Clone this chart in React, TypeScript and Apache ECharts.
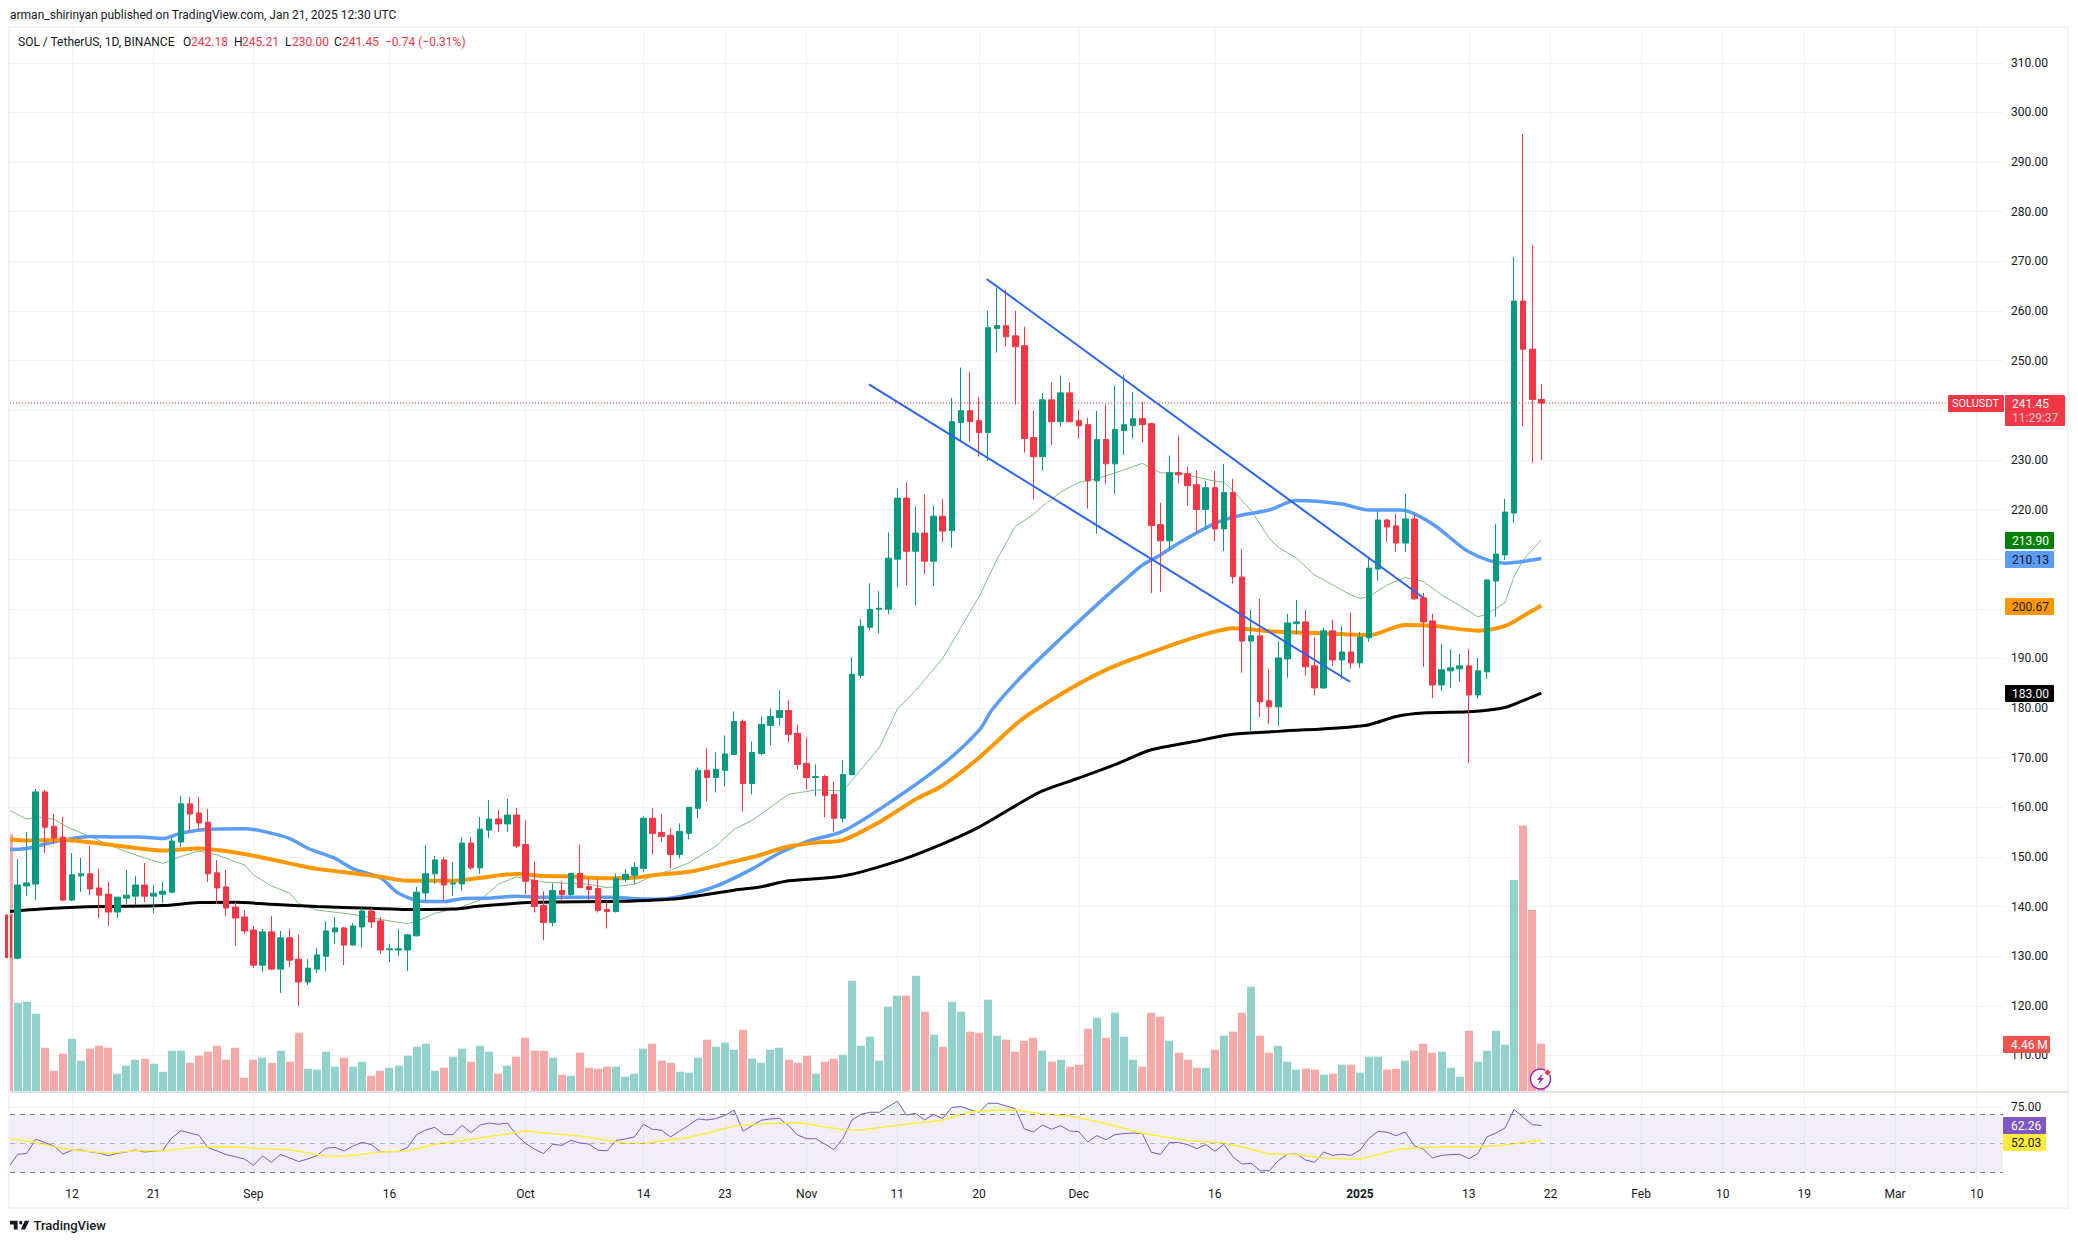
import React, { useEffect, useRef } from "react";
import * as echarts from "echarts";

const FIRST_DAY = Date.UTC(2024, 7, 5);
const dayIndex = (y: number, m: number, d: number) => Math.round((Date.UTC(y, m - 1, d) - FIRST_DAY) / 86400000);

const opens = [
  138.3,129.6,144.15,144.55,163.1,156.2,154.0,141.3,146.2,146.6,
  143.75,142.5,138.9,141.7,142.1,144.35,142.1,142.5,142.9,153,
  160.7,158.85,157,146.8,143.95,139.9,137.9,135.3,128.2,134.9,
  127.4,133.7,129.4,124.8,127.4,130,134.9,135.7,132.25,135.9,
  139.1,137.1,131.3,131.25,131.25,134.1,142.75,146.6,149.4,144.55,
  144.55,152.8,147.8,155.4,157.65,156.65,158.45,152.5,145.3,140.2,
  136.8,143.25,142.45,146.7,144.05,143.65,139.4,139,145.5,146.3,
  147.7,157.8,154.95,154.35,150.5,154.75,159.8,167.45,166,167.45,
  170.65,177.3,164.8,170.85,176.5,178.1,179.5,174.9,168.85,166,
  166.2,162.6,157.8,166.6,186.6,196.3,199.9,199.9,210,222.3,
  211.6,215.25,209.6,218.65,215.75,237.5,239.9,237.9,235.5,256.45,
  257.05,255,253,234.5,230.65,242.1,237.7,243.5,237.9,237.1,
  225.8,234.1,229.2,235.9,236.9,238.3,237.3,216.95,213.7,227.4,
  227.2,225,220,224.4,216.1,223.4,206.4,193.5,194.55,181.45,
  180.25,189.9,197,197.35,188.5,184.05,195.55,189.7,191.3,189.1,
  194.15,208,217.9,216.7,213.25,218.1,202.2,197.55,184.65,187.5,
  187.9,188.5,182.65,187.3,205.6,210.85,219.3,262,252.3,242.18,
];
const highs = [
  141,149.6,155,163.7,163.5,158.7,158.05,150.8,149.8,152.2,
  147.6,145,141.9,147.4,146.2,148.8,144.35,145,153.8,162.3,
  162.1,162.1,159.7,149.4,147.4,140.9,139.3,136.1,135.5,138.1,
  135.1,135.5,134.3,129.4,131.7,137.1,137.9,135.9,136.7,139.7,
  139.7,137.9,132.5,135.5,134.5,143.95,152.4,150.2,150,149,
  154,154,158.05,161.5,159.5,161.7,159.9,157.4,149.1,143.05,
  144.65,145.1,146.8,152.5,145.7,145.5,141,146.7,147.5,148.9,
  158.2,159.8,158.6,155.75,156.75,160,168.05,171.9,171.05,174.5,
  179.3,177.7,173.3,178.3,179.9,183.55,181.55,176.7,174.1,168.65,
  166.6,165.2,169.45,190.25,197.9,205.15,203.55,215.4,224.2,225.4,
  220.6,223,220.8,222.1,242.5,248.6,247.8,242.7,260.05,264.7,
  264.3,260.05,256.85,239.9,243.5,245.55,247,245.55,240.1,238.5,
  239.9,241.1,245,247.1,243.7,241.7,237.5,221.4,230.85,234.9,
  228.6,227.8,225.8,227.8,229.2,226.2,212.05,199.8,202,187.9,
  193.5,199,201.8,199.8,194.3,196.15,197.75,196.55,199.2,195.35,
  210.25,219.7,218.1,219.1,223.15,219.1,203.2,199,192.9,191.9,
  190.9,191.9,190.1,206,217.1,222.15,270.9,295.7,273.3,245.21,
];
const lows = [
  128,129.4,142.1,141.3,150.8,152.6,141.1,141.1,142.9,142.3,
  137.7,136.1,137.7,140.5,140.3,140.9,138.7,140.7,142.7,152,
  155.2,155.4,145,140.5,138.1,132.1,134.5,127.6,126.8,127.2,
  122.6,127.8,120,124.2,126.6,127,132.5,128.2,132.1,131.7,
  135.7,130.45,128.8,130,127,134,141.1,144.55,141.1,142.1,
  143.15,147.4,146.6,153.8,155,155,151.8,142.45,138.8,133.2,
  136,141.25,142.05,143.65,141.25,138.8,135.6,138.8,144.9,144.5,
  146.9,150.5,153.1,147.7,149.7,153.55,157.8,161.2,163,164.2,
  170.55,159.2,162.6,170.45,172.5,176.5,173.1,167.65,163.6,162.2,
  158,155.15,157,166.4,186,195.7,195.1,198.9,204.35,204.75,
  200.7,207,204.55,213.4,212.3,233.7,233.7,230.65,229.85,251.6,
  252.8,241.1,231.45,222,227.8,233,236.7,237.7,234.3,220.2,
  215.1,225.1,223.2,231,234.3,233.5,203.2,203.4,211.7,225.3,
  220.8,215.3,215.9,213.6,211.6,205.1,187.1,175.2,178.2,176.8,
  176.4,186.1,194.9,186.5,182.65,183.85,188.5,185.9,187.9,188.1,
  193.35,205.6,213.5,211.45,211.45,201.8,188.3,182,183.45,184.05,
  185.3,168.9,181.85,185.9,198.4,209.85,217.3,236.75,229.4,230,
];
const closes = [
  129.7,144.35,144.75,163.1,156,153.8,141.3,146.4,146.6,143.55,
  142.3,138.9,141.9,142.3,144.35,142.1,142.7,143.1,153.2,160.7,
  158.65,156.85,146.6,143.75,139.7,137.7,135.1,128.2,134.9,127.4,
  133.7,129.2,124.8,127.6,130.25,135.1,135.7,132.25,136.1,139.1,
  136.9,131.25,131.5,131.5,134.3,142.9,146.6,149.4,144.35,144.75,
  152.8,147.8,155.6,157.65,156.65,158.45,152.2,145.1,140,136.8,
  143.25,142.45,146.7,143.85,143.45,139.2,139,145.7,146.5,147.9,
  157.8,154.75,154.15,150.5,155.15,160,167.45,166,167.65,170.75,
  177.3,164.8,171.05,176.7,178.3,179.5,174.7,168.65,166,166.2,
  162.4,157.8,166.6,186.8,196.5,199.9,200.1,210.2,222.3,211.6,
  215.25,209.6,218.65,215.65,237.7,239.9,237.7,235.5,256.65,257.05,
  254.8,252.8,234.3,230.65,242.1,237.7,243.5,237.7,236.9,225.8,
  234.1,229.2,236.1,237.1,238.3,237.1,216.75,213.7,227.4,227,
  224.8,220,224.4,216.1,223.4,206.5,193.5,194.55,181.25,180.25,
  190.1,197.15,197.35,188.3,184.05,195.55,189.7,191.3,189.1,194.3,
  208.2,217.9,216.5,213.25,218.1,202,197.35,184.65,187.7,188.1,
  188.5,182.65,187.5,205.8,211.05,219.5,262,252.3,242.18,241.45,
];
// volume in millions
const volumes = [
  23.8,8.24,8.33,7.23,4.09,1.97,3.54,4.92,2.89,4.0,
  4.27,4.09,1.69,2.43,2.98,3.07,2.61,1.87,3.81,3.81,
  2.7,3.35,3.72,4.27,2.98,4.09,1.32,2.98,3.17,2.7,
  3.81,2.8,5.47,2.15,2.06,3.72,2.34,3.17,2.34,2.8,
  1.5,1.97,2.24,2.43,3.35,4.18,4.46,1.97,2.24,3.26,
  4.0,2.8,4.27,3.72,1.69,2.43,3.26,5.01,3.81,3.81,
  3.17,1.6,1.5,3.63,2.24,2.15,2.34,2.34,1.41,1.69,
  4.0,4.46,2.89,2.7,1.87,1.78,3.17,4.83,4.18,4.55,
  3.9,5.75,3.07,2.7,3.9,4.09,2.98,2.7,3.35,1.69,
  2.8,3.07,3.44,10.27,4.27,5.1,2.89,7.87,8.89,8.89,
  10.73,7.41,5.29,4.18,8.33,7.41,5.57,5.47,8.52,5.2,
  4.83,3.72,4.73,5.01,3.81,2.8,2.98,2.34,2.52,5.84,
  6.86,5.01,7.32,5.1,2.98,2.34,7.32,6.95,4.73,3.63,
  2.98,2.24,2.24,3.9,5.2,5.57,7.32,9.72,5.2,3.63,
  4.27,2.8,2.06,2.15,2.06,1.6,1.69,2.52,2.52,1.78,
  3.26,3.26,2.06,2.15,2.89,3.81,4.46,3.63,3.72,2.24,
  1.41,5.66,2.8,3.81,5.66,4.37,19.57,24.6,16.8,4.46,
];
const rsiValues = [
  33.5,42.4,42.9,52.8,50.5,48.2,42.6,45.2,45.4,44,
  43.3,41.5,43.1,44,45.4,44,44.5,45.2,53.7,58.7,
  57.1,55.5,47,44.7,42.2,40.8,39.2,34.8,41.3,36.9,
  42.4,39.9,37.4,39.2,41.5,46.6,47.2,44.7,48.2,50.7,
  49.1,44.3,44.3,44.3,47.2,56,59.2,61,56,56,
  62.4,57.4,62.6,64,63.1,64,55.7,50,45.9,42.9,
  49.3,48.6,52,50.2,49.5,45.2,44.9,52,53,54.4,
  63.1,59.7,59,54.4,58.5,62.4,66.8,66.1,67,69.3,
  72.8,58.3,62.2,65.9,66.8,67.2,62.2,55.7,53.2,53.2,
  49.5,45.6,53.4,66.1,70,71.4,71.4,75.3,79,69.5,
  70.7,66.1,69.8,67.2,74.8,75.3,73.2,71.4,77.6,77.6,
  75.7,73.9,59.9,57.8,62.6,59.7,62.2,58.5,58,50.9,
  55.3,52.5,56,56.7,57.1,56.7,43.8,42.4,50.5,50.5,
  49.1,46.3,49.1,44.5,49.3,40.6,35.7,36.2,31.1,31.1,
  38,42.4,42.6,38.5,36.9,44,41.7,42.4,41.7,45.2,
  53.4,58.3,57.6,55.3,57.8,48.2,45.9,39.9,41.7,42.2,
  42.4,39.4,42.9,54.4,57.1,60.6,73.4,67.9,62.9,62.26,
];

// [day index, value] readings of the moving averages
const maGreen = [[0,159.5],[2,157.65],[3.5,158],[5,157.6],[6.5,156],[9,154.1],[12,151.75],[14,150.4],[17,148.7],[19,150.1],[21,151.2],[23,150.4],[26,148.4],[27,146.4],[29,144.15],[31,142.7],[32,140.65],[34,139.3],[37,138.65],[39,138.1],[41,137.4],[44,136.55],[45.5,137.4],[47,138.65],[49.5,139.65],[52,141.3],[54,144.5],[56,146],[59,144.95],[61.5,144.7],[64,144.5],[66,143.8],[69,144.5],[71,146.15],[73,147.35],[75,148.8],[78,152.2],[80,155.55],[82,157.4],[86,162.6],[89,163.5],[92,163.3],[96,172],[98,179.8],[100,183.5],[103,190],[107,202.4],[109,210],[111,216.6],[113,219],[114,220.7],[116,223.5],[118,225.5],[120,226.2],[123,228],[125,229.3],[127,227.4],[129,227.4],[133,225.7],[134,225.5],[135,223.8],[137,219.8],[139,214.2],[140,212.4],[142,210.2],[144,206.8],[146,204.8],[148,202.8],[149,202.1],[150,202.45],[152,204.8],[154,206.3],[156,205.5],[158,202.8],[160,200.65],[162,198.4],[163,198.9],[165,201.3],[166,206.5],[167,209.85],[169,213.9]];
const maBlue = [[0,151.5],[2,151.7],[4,152.6],[6,153.4],[9,154.1],[12,154],[14.5,154],[17,153.7],[19,154.8],[22,155.6],[26,155.7],[28,155.2],[31,153.7],[33,151.75],[36,149.7],[38,147.6],[41,145.8],[43,142.7],[46,141],[48,141],[50,141.6],[53,141.7],[56,142.1],[59,141.9],[67,141.9],[69,141.6],[71.5,141.5],[74,142],[78,144.1],[82,147.6],[85,150.8],[88,153.1],[92,155.2],[97,160.8],[103,168.65],[107,175.5],[108.5,179.8],[111.5,186],[116,194],[120.7,202],[123.7,206.8],[125,208.8],[127,210.85],[129,213.2],[133,217.2],[136,218.9],[139,219.9],[142,221.8],[147,221.1],[150,219.9],[153.5,219.9],[157,217.1],[161,211.5],[165,209.2],[169,210.13]];
const maOrange = [[0,153.55],[2,153.3],[6,153.4],[11,152.5],[14,151.8],[17,151.3],[21,151.7],[25,150.9],[29,149.5],[32,148.3],[34,147.6],[38,146.7],[41,146],[44,145.2],[49,145.2],[52,145.8],[56,146.55],[59,146.15],[61.5,146.1],[66,145.7],[69,145.8],[71.5,146.4],[75,147],[80,149.1],[82.5,150.2],[86,152.1],[89,152.9],[92,153.4],[96,157],[100,161.6],[103,164.4],[107,170],[111.5,177.4],[114,180.5],[118,184.9],[121,187.7],[123.7,189.7],[127,191.85],[129.5,193.5],[133,195.4],[135,196.1],[139.5,195.4],[144,195.1],[150,194.7],[154,196.75],[157,196.6],[162,195.6],[165,196.55],[167.5,199.1],[169,200.67]];
const maBlack = [[0,139],[5,139.65],[10,140],[17,140.2],[21,140.8],[25,140.85],[29,140.45],[34,140],[40,139.65],[44,139.4],[49,139.5],[52,140.1],[58,140.85],[67,141.05],[74,141.65],[80,143.3],[83,144],[86,145.2],[92,146.15],[98,149.15],[103,152.65],[107,156],[111,160.3],[114,163.3],[118,165.9],[122,168.6],[126,171.6],[130,173],[135,174.7],[140,175.3],[149.6,176.5],[153,178.3],[156,179],[161.5,179.3],[165,180.1],[167,181.5],[169,183]];
const rsiMa = [[0,53.2],[3,50.5],[5,47.7],[7,45.4],[11,43.1],[14,44.9],[17,44.9],[21,47.5],[25,47.7],[28,46.3],[31,45.6],[35,41.3],[37,41],[41,44],[44,44.7],[47,49.3],[50.5,52.3],[54,55.5],[57,58.5],[60.6,56.2],[63,55.1],[68,50],[70,49.8],[75,54.1],[76,55.5],[80,61.7],[83,63.3],[87,64.3],[92,59.4],[94,59.2],[98,62.4],[103,66.1],[106,71.6],[108.5,72.8],[111,73],[114,70.2],[117,68.9],[120.5,64.3],[125,56.9],[130,52],[134,50.2],[136.5,46.8],[139,42.6],[141.5,42.4],[145,39.9],[149,39],[153.5,46.3],[158,47.7],[162,47.7],[165,48.9],[167,50.7],[169,52.03]];

// drawn trend lines: [day index, price]
const trendUpper = [[107.85,266.45],[155.95,202.27]];
const trendLower = [[94.87,245.2],[147.9,185.3]];

const priceTicks = [110,120,130,140,150,160,170,180,190,200,210,220,230,240,250,260,270,280,290,300,310];
// 200, 210 and 240 sit behind the price tags in the reference
const priceLabels = [110,120,130,140,150,160,170,180,190,220,230,250,260,270,280,290,300,310];
const rsiTicks = [75];
const rsiLevels = [70, 50, 30];
const timeTickDays = [
  dayIndex(2024,8,12),dayIndex(2024,8,21),dayIndex(2024,9,1),dayIndex(2024,9,16),dayIndex(2024,10,1),dayIndex(2024,10,14),dayIndex(2024,10,23),
  dayIndex(2024,11,1),dayIndex(2024,11,11),dayIndex(2024,11,20),dayIndex(2024,12,1),dayIndex(2024,12,16),dayIndex(2025,1,1),dayIndex(2025,1,13),
  dayIndex(2025,1,22),dayIndex(2025,2,1),dayIndex(2025,2,10),dayIndex(2025,2,19),dayIndex(2025,3,1),dayIndex(2025,3,10),
];
const timeTickLabels = ["12","21","Sep","16","Oct","14","23","Nov","11","20","Dec","16","2025","13","22","Feb","10","19","Mar","10"];

const lastClose = 241.45;
const FONT = "Roboto, sans-serif";
const TEXT = "#131722";
const UP = "#089981";
const DOWN = "#f23645";
const VOL_UP = "#92d2cc";
const VOL_DOWN = "#f7a9a7";
const GRID = "#f1f2f6";

const X_MIN = 0.165;
const X_MAX = 219.9;

echarts.graphic.registerShape("tvLogo", echarts.graphic.extendPath(
  "M14 6H0v6h7v8h7V6Z M28 20h-8l7.5-14h8L28 20Z M23 9a3 3 0 1 1-6 0a3 3 0 1 1 6 0Z", {}
));

function tag(x: number, y: number, w: number, h: number, fill: string, label: string, color: string, tx?: number, size = 12) {
  return [
    { type: "rect", z: 50, shape: { x, y, width: w, height: h, r: 1 }, style: { fill } },
    { type: "text", z: 51, x: tx ?? x + 7, y: y + h / 2, style: { text: label, fill: color, font: `${size}px ${FONT}`, textVerticalAlign: "middle" } },
  ];
}
function txt(x: number, y: number, text: string, fill = TEXT, font = `12px ${FONT}`) {
  return { type: "text", z: 51, x, y, style: { text, fill, font, textVerticalAlign: "middle" } };
}

export default function App() {
  const ref = useRef<HTMLDivElement>(null);
  useEffect(() => {
    const chart = echarts.init(ref.current!, undefined, { renderer: "svg" });
    const candleData = opens.map((o, i) => [i, o, closes[i], lows[i], highs[i]]);
    const volData = volumes.map((v, i) => [i, v, closes[i] >= opens[i] ? 1 : 0]);
    const rsiData = rsiValues.map((v, i) => [i, v]);
    const tickLookup = new Map(timeTickDays.map((d, i) => [d, timeTickLabels[i]]));

    const xBase = (gridIndex: number, labels: boolean) => ({
      type: "value", gridIndex, min: X_MIN, max: X_MAX,
      axisLine: { show: false },
      axisTick: { show: false, customValues: timeTickDays },
      splitLine: { show: true, lineStyle: { color: GRID, width: 1 } },
      axisLabel: labels ? {
        show: true, customValues: timeTickDays, margin: 8, color: TEXT, fontFamily: FONT, fontSize: 12,
        formatter: (v: number) => { const s = tickLookup.get(v) ?? ""; return s === "2025" ? `{b|${s}}` : s; },
        rich: { b: { fontWeight: "bold", fontFamily: FONT, fontSize: 12, color: TEXT } },
      } : { show: false },
    });
    const line = (name: string, data: number[][], color: string, width: number, z: number, xAxisIndex = 0, yAxisIndex = 0, smooth: number | boolean = false) => ({
      name, type: "line", data, xAxisIndex, yAxisIndex, z, symbol: "none", smooth, silent: true, clip: true,
      lineStyle: { color, width }, itemStyle: { color },
    });

    chart.setOption({
      animation: false,
      backgroundColor: "#ffffff",
      grid: [
        { left: 10, top: 28, width: 1993, height: 1064 },
        { left: 10, top: 1092, width: 1993, height: 88 },
      ],
      xAxis: [xBase(0, false), xBase(1, true)],
      yAxis: [
        {
          type: "value", gridIndex: 0, position: "right", min: 102.64, max: 317.02,
          axisLine: { show: false },
          axisTick: { show: false, customValues: priceTicks },
          splitLine: { show: true, lineStyle: { color: GRID, width: 1 } },
          axisLabel: { customValues: priceLabels, color: TEXT, fontFamily: FONT, fontSize: 12, margin: 8, formatter: (v: number) => v.toFixed(2) },
        },
        { type: "value", gridIndex: 0, show: false, min: 0, max: 98.25, splitLine: { show: false } },
        {
          type: "value", gridIndex: 1, position: "right", min: 24.69, max: 85.38,
          axisLine: { show: false },
          axisTick: { show: false, customValues: rsiTicks },
          splitLine: { show: true, lineStyle: { color: GRID, width: 1 } },
          axisLabel: { customValues: rsiTicks, color: TEXT, fontFamily: FONT, fontSize: 12, margin: 8, formatter: (v: number) => v.toFixed(2) },
        },
      ],
      series: [
        {
          name: "Volume", type: "custom", data: volData, xAxisIndex: 0, yAxisIndex: 1, z: 1, silent: true, clip: true,
          encode: { x: 0, y: 1 },
          renderItem: (params: any, api: any) => {
            const x = api.value(0);
            const top = api.coord([x, api.value(1)]);
            const bottom = api.coord([x, 0]);
            const rect = echarts.graphic.clipRectByRect(
              { x: Math.round(top[0] - 4), y: top[1], width: 8, height: bottom[1] - top[1] },
              { x: params.coordSys.x, y: params.coordSys.y, width: params.coordSys.width, height: params.coordSys.height }
            );
            return rect && { type: "rect", shape: rect, style: { fill: api.value(2) ? VOL_UP : VOL_DOWN } };
          },
        },
        line("MA 20", maGreen, "rgba(0,128,0,0.5)", 1, 2),
        line("MA 50", maBlue, "#5b9cf6", 3.5, 2, 0, 0, 0.3),
        line("MA 100", maOrange, "#ff9800", 4, 2, 0, 0, 0.3),
        line("MA 200", maBlack, "#000000", 3, 2, 0, 0, 0.3),
        {
          name: "SOLUSDT", type: "candlestick", data: candleData, xAxisIndex: 0, yAxisIndex: 0, z: 3, barWidth: 6, silent: true, clip: true,
          encode: { x: 0, y: [1, 2, 3, 4] },
          itemStyle: { color: UP, color0: DOWN, borderColor: UP, borderColor0: DOWN, borderWidth: 1 },
        },
        line("Trend upper", trendUpper, "#2962ff", 2, 4),
        line("Trend lower", trendLower, "#2962ff", 2, 4),
        {
          name: "Last", type: "line", xAxisIndex: 0, yAxisIndex: 0, z: 4, symbol: "none", silent: true,
          data: [[X_MIN, lastClose], [213.8, lastClose]],
          lineStyle: { color: DOWN, width: 1, type: [1, 2] },
        },
        {
          name: "RSI over", type: "line", xAxisIndex: 1, yAxisIndex: 2, z: 2, symbol: "none", silent: true,
          data: rsiValues.map((v, i) => [i, Math.max(v, rsiLevels[0])]), lineStyle: { width: 0, opacity: 0 },
          areaStyle: { color: "rgba(76,175,80,0.15)", origin: rsiLevels[0] },
        },
        {
          ...line("RSI", rsiData, "#7e57c2", 1, 3, 1, 2),
          markArea: {
            silent: true, itemStyle: { color: "rgba(126,87,194,0.1)" },
            data: [[{ xAxis: X_MIN, yAxis: rsiLevels[0] }, { xAxis: X_MAX, yAxis: rsiLevels[2] }]],
          },
          markLine: {
            silent: true, symbol: "none", label: { show: false },
            data: [
              { yAxis: rsiLevels[0], lineStyle: { color: "#787b86", type: [5, 5], width: 1 } },
              { yAxis: rsiLevels[1], lineStyle: { color: "rgba(120,123,134,0.5)", type: [5, 5], width: 1 } },
              { yAxis: rsiLevels[2], lineStyle: { color: "#787b86", type: [5, 5], width: 1 } },
            ],
          },
        },
        line("RSI MA", rsiMa, "#ffeb3b", 1.5, 3, 1, 2),
      ],
      graphic: [
        txt(10, 15, "arman_shirinyan published on TradingView.com, Jan 21, 2025 12:30 UTC"),
        txt(18, 41.5, "SOL / TetherUS, 1D, BINANCE"),
        txt(183, 41.5, "O"), txt(191, 41.5, "242.18", DOWN),
        txt(234, 41.5, "H"), txt(242, 41.5, "245.21", DOWN),
        txt(285, 41.5, "L"), txt(292, 41.5, "230.00", DOWN),
        txt(334, 41.5, "C"), txt(342, 41.5, "241.45", DOWN),
        txt(385, 41.5, "\u22120.74 (\u22120.31%)", DOWN),
        // frame and pane separator
        { type: "rect", z: 40, shape: { x: 9, y: 27, width: 2059, height: 1181 }, style: { fill: "none", stroke: "#f0f3fa", lineWidth: 2 } },
        { type: "line", z: 41, shape: { x1: 10, y1: 1092, x2: 2068, y2: 1092 }, style: { stroke: "#e0e3eb", lineWidth: 2 } },
        // price tags
        ...tag(1948, 395, 56, 17, DOWN, "SOLUSDT", "#ffffff", 1952, 11),
        { type: "rect", z: 50, shape: { x: 2005, y: 395, width: 60, height: 31, r: 1 }, style: { fill: DOWN } },
        txt(2012, 403.5, "241.45", "#ffffff"),
        txt(2012, 418, "11:29:37", "rgba(255,255,255,0.75)"),
        ...tag(2005, 532, 49, 17, "#008000", "213.90", "#ffffff"),
        ...tag(2005, 551, 49, 17, "#5b9cf6", "210.13", TEXT),
        ...tag(2005, 598, 49, 17, "#ff9800", "200.67", TEXT),
        ...tag(2005, 685, 49, 17, "#000000", "183.00", "#ffffff"),
        ...tag(2003, 1036, 47, 17, "#ef5350", "4.46 M", "#ffffff", 2011),
        ...tag(2003, 1117, 43, 17, "#7e57c2", "62.26", "#ffffff", 2011),
        ...tag(2003, 1134, 43, 17, "#ffeb3b", "52.03", TEXT, 2011),
        // news flash marker
        { type: "circle", z: 52, shape: { cx: 1540.5, cy: 1079, r: 10 }, style: { fill: "#ffffff", stroke: "#9c27b0", lineWidth: 1.5 } },
        { type: "polygon", z: 53, shape: { points: [[1543, 1073], [1537, 1080], [1540, 1080], [1538, 1085], [1544, 1078], [1541, 1078]] }, style: { fill: "#9c27b0" } },
        { type: "circle", z: 54, shape: { cx: 1547.5, cy: 1072.5, r: 3 }, style: { fill: DOWN, stroke: "#ffffff", lineWidth: 1 } },
        // footer
        { type: "tvLogo", z: 50, x: 10, y: 1217, scaleX: 0.54, scaleY: 0.62, style: { fill: TEXT } },
        txt(33.5, 1225.5, "TradingView", TEXT, `500 13px ${FONT}`),
      ],
    } as any);
    return () => chart.dispose();
  }, []);
  return <div ref={ref} style={{ position: "absolute", left: 0, top: 0, width: 2078, height: 1243, background: "#fff" }} />;
}
